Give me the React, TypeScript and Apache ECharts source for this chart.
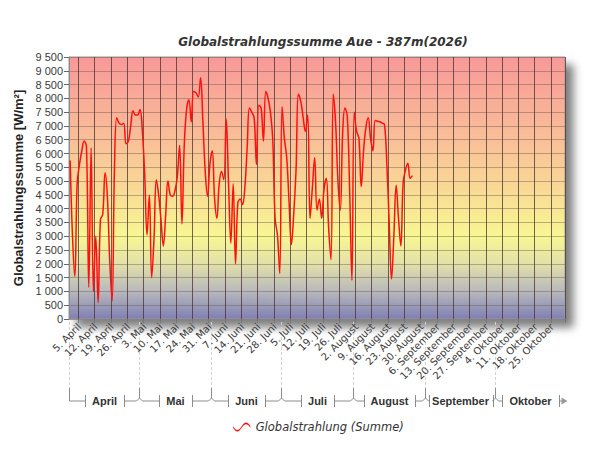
import React, { useEffect, useRef } from 'react';
import * as echarts from 'echarts';

const MONTH_NAMES = ['Januar', 'Februar', 'März', 'April', 'Mai', 'Juni', 'Juli', 'August', 'September', 'Oktober', 'November', 'Dezember'];
const YEAR = 2026;
const START_MONTH = 3; // April (0-based)
const DAY_COUNT = 213; // 1. April .. 30. Oktober

// Daily global radiation sums, from 1. April
const values = [
  5750, 3000, 1550, 4900, 5600, 6100, 6450, 6250, 1150, 6200,
  1000, 3000, 600, 3600, 3800, 5300, 4400, 2100, 650, 5350,
  7300, 7100, 7050, 7100, 6350, 6450, 7000, 7550, 7400, 7400,
  7600, 6800, 5250, 3050, 4500, 1500, 2900, 5050, 4500, 3600,
  2650, 3750, 5000, 4500, 4450, 4650, 5150, 6300, 3450, 6300,
  7600, 7950, 7150, 8250, 8200, 8050, 8750, 7150, 5350, 4450,
  5600, 6100, 4400, 3650, 4900, 5350, 5050, 7250, 4950, 2750,
  4900, 2000, 4200, 4350, 4150, 4750, 6200, 7650, 7500, 7300,
  5600, 7750, 7650, 6450, 8250, 8000, 7500, 6500, 3650, 3050,
  1650, 7700, 6550, 5850, 4250, 2700, 3800, 5400, 8150, 7900,
  7350, 6800, 7400, 3650, 4750, 5850, 3950, 4350, 3650, 4700,
  5100, 3300, 2150, 8150, 7100, 5000, 3950, 6700, 7650, 7350,
  4750, 1400, 7500, 6800, 6550, 4800, 6100, 6950, 7300, 6550,
  6100, 7200, 7170, 7150, 7100, 7050, 5600, 3500, 1450, 3000,
  4850, 3650, 2650, 4950, 5400, 5650, 5100, 5200,
];

const Y_MIN = 0;
const Y_MAX = 9500;
const Y_STEP = 500;

const TITLE = 'Globalstrahlungssumme Aue - 387m(2026)';
const Y_NAME = 'Globalstrahlungssumme [W/m²]';
const SERIES_NAME = 'Globalstrahlung (Summe)';

// build day categories
const dayDates: Date[] = [];
for (let i = 0; i < DAY_COUNT; i++) {
  dayDates.push(new Date(Date.UTC(YEAR, START_MONTH, 1 + i)));
}
const categories = dayDates.map((d) => `${d.getUTCDate()}. ${MONTH_NAMES[d.getUTCMonth()]}`);
const isSunday = (i: number) => !!dayDates[i] && dayDates[i].getUTCDay() === 0;

const fmtThousands = (v: number) => String(v).replace(/\B(?=(\d{3})+(?!\d))/g, ' ');

const LABEL_FONT = '"DejaVu Sans", Verdana, sans-serif';
const SANS_FONT = '"Liberation Sans", Arial, sans-serif';
const MONTH_FONT = 'bold 11px "Liberation Sans", Arial, sans-serif';

function measure(text: string, font: string): number {
  const c = document.createElement('canvas');
  const ctx = c.getContext('2d');
  if (!ctx) return text.length * 6;
  ctx.font = font;
  return ctx.measureText(text).width;
}

export default function App() {
  const ref = useRef<HTMLDivElement>(null);

  useEffect(() => {
    if (!ref.current) return;
    const chart = echarts.init(ref.current, undefined, { renderer: 'svg' });
    const option: any = {
      animation: false,
      backgroundColor: '#ffffff',
      title: {
        text: TITLE,
        left: 318,
        top: 31,
        textAlign: 'center',
        textStyle: {
          fontFamily: LABEL_FONT,
          fontSize: 12,
          fontWeight: 'bold',
          fontStyle: 'italic',
          color: '#333',
        },
      },
      legend: {
        data: [SERIES_NAME],
        left: 228,
        top: 416,
        itemWidth: 18,
        itemHeight: 9,
        itemGap: 10,
        icon: 'path://M0,5 C3,10 6,10 9,5 C12,0 15,0 18,5 L18,6.8 C15,1.8 12,1.8 9,6.8 C6,11.8 3,11.8 0,6.8 Z',
        textStyle: {
          fontFamily: LABEL_FONT,
          fontSize: 11.5,
          fontStyle: 'italic',
          color: '#333',
        },
      },
      grid: {
        left: 69,
        right: 35,
        top: 57,
        bottom: 131,
        show: true,
        borderColor: '#9a9a9a',
        borderWidth: 1,
        backgroundColor: new echarts.graphic.LinearGradient(0, 0, 0, 1, [
          { offset: 0, color: '#f89898' },
          { offset: 0.263, color: '#f9b898' },
          { offset: 0.474, color: '#f9d595' },
          { offset: 0.684, color: '#f8f792' },
          { offset: 0.79, color: '#e2e0a8' },
          { offset: 0.895, color: '#b8b8bd' },
          { offset: 1, color: '#7f7fb3' },
        ]),
        shadowColor: 'rgba(0,0,0,0.5)',
        shadowBlur: 8,
        shadowOffsetX: 8,
        shadowOffsetY: 8,
      },
      xAxis: {
        type: 'category',
        data: categories,
        boundaryGap: true,
        axisLine: { show: false },
        axisTick: {
          show: true,
          length: 4,
          interval: (i: number) => isSunday(i),
          lineStyle: { color: '#777' },
        },
        axisLabel: {
          interval: (i: number) => isSunday(i),
          rotate: 45,
          margin: 6,
          fontFamily: LABEL_FONT,
          fontSize: 10,
          color: '#3a3a3a',
        },
        splitLine: {
          show: true,
          interval: (i: number) => isSunday(i),
          lineStyle: { color: 'rgba(70,50,50,0.75)', width: 1 },
        },
      },
      yAxis: {
        type: 'value',
        min: Y_MIN,
        max: Y_MAX,
        interval: Y_STEP,
        name: Y_NAME,
        nameLocation: 'middle',
        nameGap: 36,
        nameTextStyle: {
          fontFamily: SANS_FONT,
          fontSize: 13,
          fontWeight: 'bold',
          color: '#222',
        },
        axisLine: { show: true, lineStyle: { color: '#8a8a8a' } },
        axisTick: { show: true, length: 5, lineStyle: { color: '#666' } },
        axisLabel: {
          formatter: (v: number) => fmtThousands(v),
          fontFamily: SANS_FONT,
          fontSize: 11,
          color: '#3a3a3a',
          margin: 6,
        },
        splitLine: { show: true, lineStyle: { color: 'rgba(110,90,80,0.45)', width: 1 } },
      },
      series: [
        {
          name: SERIES_NAME,
          type: 'line',
          data: values,
          showSymbol: false,
          smooth: 0.4,
          itemStyle: { color: '#ff1010' },
          lineStyle: { color: '#ff1010', width: 1.5 },
        },
      ],
    };
    chart.setOption(option);

    // Month group annotations under the axis, positioned from the axis scale
    const c0 = chart.convertToPixel({ xAxisIndex: 0 }, 0) as number;
    const c1 = chart.convertToPixel({ xAxisIndex: 0 }, 1) as number;
    const bw = c1 - c0;
    const boundaryX = (i: number) => (chart.convertToPixel({ xAxisIndex: 0 }, Math.min(i, DAY_COUNT - 1)) as number) + (i >= DAY_COUNT ? bw / 2 : -bw / 2);
    const axisY = chart.convertToPixel({ yAxisIndex: 0 }, Y_MIN) as number;

    const starts: number[] = [];
    dayDates.forEach((d, i) => { if (d.getUTCDate() === 1) starts.push(i); });
    const bounds = [...starts, DAY_COUNT];

    const lineY = 401;
    const topY = 388;
    const gray = '#8c8c8c';
    const els: any[] = [];
    const seg = (x1: number, y1: number, x2: number, y2: number) =>
      els.push({ type: 'line', silent: true, shape: { x1, y1, x2, y2 }, style: { stroke: gray, lineWidth: 1 } });

    for (let b = 0; b < bounds.length - 1; b++) {
      const x = Math.round(boundaryX(bounds[b])) + 0.5;
      els.push({
        type: 'line', silent: true,
        shape: { x1: x, y1: axisY + 3, x2: x, y2: topY },
        style: { stroke: '#d2d2d2', lineWidth: 1, lineDash: [3, 2] },
      });
    }

    for (let m = 0; m < bounds.length - 1; m++) {
      const b0 = Math.round(boundaryX(bounds[m])) + 0.5;
      const b1 = Math.round(boundaryX(bounds[m + 1])) + 0.5;
      const isLast = m === bounds.length - 2;
      const name = MONTH_NAMES[dayDates[bounds[m]].getUTCMonth()];
      const w = measure(name, MONTH_FONT);
      const cx = (b0 + b1) / 2;
      const lb = Math.round(Math.max(b0 + 3, cx - w / 2 - 7)) + 0.5;
      const rb = Math.round(Math.min(b1 - 3, cx + w / 2 + 7)) + 0.5;
      if (m === 0) {
        seg(b0, topY, b0, lineY);
        seg(b0, lineY, lb, lineY);
      } else {
        seg(b0, topY, b0, lineY - 3);
        seg(b0, lineY - 3, b0 + 3, lineY);
        seg(b0 + 3, lineY, lb, lineY);
      }
      seg(lb, lineY - 6, lb, lineY + 6);
      seg(rb, lineY - 6, rb, lineY + 6);
      if (isLast) {
        seg(rb, lineY, b1 - 2, lineY);
        els.push({
          type: 'polygon', silent: true,
          shape: { points: [[b1 - 4, lineY - 3.5], [b1 + 2, lineY], [b1 - 4, lineY + 3.5]] },
          style: { fill: '#9a9a9a' },
        });
      } else {
        seg(rb, lineY, b1 - 3, lineY);
        seg(b1 - 3, lineY, b1, lineY - 3);
      }
      els.push({
        type: 'text', silent: true,
        x: cx, y: lineY,
        style: {
          text: name,
          font: MONTH_FONT,
          fill: '#333',
          align: 'center',
          verticalAlign: 'middle',
          textAlign: 'center',
          textVerticalAlign: 'middle',
        },
      });
    }
    chart.setOption({ graphic: els });

    return () => chart.dispose();
  }, []);

  return <div ref={ref} style={{ position: 'fixed', left: 0, top: 0, width: 600, height: 450 }} />;
}
